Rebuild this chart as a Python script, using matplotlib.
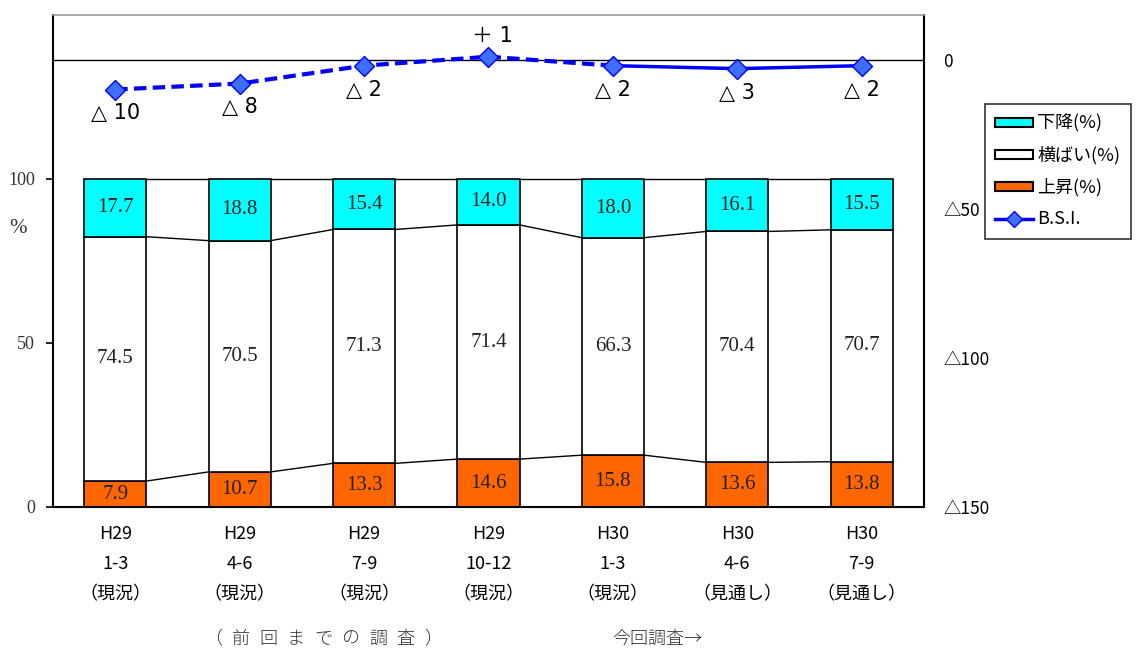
import matplotlib.pyplot as plt
from matplotlib.patches import Patch
from matplotlib.lines import Line2D

plt.rcParams['font.family'] = ['Noto Sans CJK JP', 'DejaVu Sans']

# Data
periods = ['H29\n1-3\n（現況）', 'H29\n4-6\n（現況）', 'H29\n7-9\n（現況）', 'H29\n10-12\n（現況）',
           'H30\n1-3\n（現況）', 'H30\n4-6\n（見通し）', 'H30\n7-9\n（見通し）']
rise = [7.9, 10.7, 13.3, 14.6, 15.8, 13.6, 13.8]      # 上昇(%)
flat = [74.5, 70.5, 71.3, 71.4, 66.3, 70.4, 70.7]     # 横ばい(%)
fall = [17.7, 18.8, 15.4, 14.0, 18.0, 16.1, 15.5]     # 下降(%)
bsi = [-10, -8, -2, 1, -2, -3, -2]
bsi_labels = ['△ 10', '△ 8', '△ 2', '＋ 1', '△ 2', '△ 3', '△ 2']

c_rise = '#FF6600'
c_fall = '#00FFFF'
c_line = '#0000FF'
c_mark = '#3F6FFF'
serif = ['Liberation Serif', 'DejaVu Serif']
label_font = ['DejaVu Sans', 'Noto Sans CJK JP']

fig = plt.figure(figsize=(11.37, 6.48), dpi=100)
ax = fig.add_axes([0.0466, 0.2176, 0.766, 0.7593])
x = list(range(len(periods)))
w = 0.5

mid_base = [r for r in rise]
top_base = [r + f for r, f in zip(rise, flat)]
ax.bar(x, rise, w, color=c_rise, edgecolor='black', linewidth=1.2, zorder=2)
ax.bar(x, flat, w, bottom=mid_base, color='white', edgecolor='black', linewidth=1.2, zorder=2)
ax.bar(x, fall, w, bottom=top_base, color=c_fall, edgecolor='black', linewidth=1.2, zorder=2)

# connector lines between neighbouring bars
for i in range(len(x) - 1):
    for lev in (mid_base, top_base):
        ax.plot([x[i] + w / 2, x[i + 1] - w / 2], [lev[i], lev[i + 1]],
                color='black', lw=1, zorder=1)
    ax.plot([x[i] + w / 2, x[i + 1] - w / 2], [100, 100], color='black', lw=1, zorder=1)

# values inside the bars
for i in x:
    ax.text(i, rise[i] / 2, f'{rise[i]:.1f}', ha='center', va='center',
            fontsize=15, family=serif, color='#222222', zorder=3)
    ax.text(i, mid_base[i] + flat[i] / 2, f'{flat[i]:.1f}', ha='center', va='center',
            fontsize=15, family=serif, color='#222222', zorder=3)
    ax.text(i, top_base[i] + fall[i] / 2, f'{fall[i]:.1f}', ha='center', va='center',
            fontsize=15, family=serif, color='#222222', zorder=3)

ax.set_xlim(-0.5, len(x) - 0.5)
ax.set_ylim(0, 150)
ax.set_yticks([0, 50, 100])
ax.set_yticklabels(['0', '50', '100'], family=serif, fontsize=13, color='#333333')
ax.text(-0.04, 85, '%', transform=ax.get_yaxis_transform(), ha='center', va='center',
        family=serif, fontsize=15, color='#333333')
ax.set_xticks(x)
ax.set_xticklabels(periods, fontsize=13, linespacing=1.85)
ax.tick_params(axis='x', length=0, pad=13)
ax.tick_params(axis='y', length=5, width=1.2, direction='out', pad=8)
for s in ('left', 'bottom', 'right'):
    ax.spines[s].set_linewidth(1.5)
ax.spines['top'].set_color('#999999')
ax.spines['top'].set_linewidth(1.2)

# B.S.I. on the right axis
ax2 = ax.twinx()
ax2.set_ylim(-150, 15)
ax2.axhline(0, color='black', lw=1, zorder=1)
ax2.plot(x[:5], bsi[:5], color=c_line, lw=3, ls=(0, (3, 1.5)), zorder=3)
ax2.plot(x[4:], bsi[4:], color=c_line, lw=2.5, zorder=3)
ax2.plot(x, bsi, ls='none', marker='D', markersize=10, markerfacecolor=c_mark,
         markeredgecolor=c_line, markeredgewidth=1, zorder=4)
for i in x:
    if bsi[i] > 0:
        ax2.annotate(bsi_labels[i], (i, bsi[i]), xytext=(3, 8), textcoords='offset points',
                     ha='center', va='bottom', fontsize=15, family=label_font)
    else:
        ax2.annotate(bsi_labels[i], (i, bsi[i]), xytext=(0, -10), textcoords='offset points',
                     ha='center', va='top', fontsize=15, family=label_font)
ax2.set_yticks([0, -50, -100, -150])
ax2.set_yticklabels(['0', '△50', '△100', '△150'], fontsize=12.5)
ax2.tick_params(axis='y', length=0, pad=14)
for s in ax2.spines.values():
    s.set_visible(False)

handles = [Patch(facecolor=c_fall, edgecolor='black', linewidth=1.5, label='下降(%)'),
           Patch(facecolor='white', edgecolor='black', linewidth=1.5, label='横ばい(%)'),
           Patch(facecolor=c_rise, edgecolor='black', linewidth=1.5, label='上昇(%)'),
           Line2D([], [], color=c_line, lw=2.5, marker='D', markersize=8,
                  markerfacecolor=c_mark, markeredgecolor=c_line, label='B.S.I.')]
leg = fig.legend(handles=handles, loc='upper left', bbox_to_anchor=(0.866, 0.84),
                 fontsize=13, frameon=True, fancybox=False, edgecolor='black',
                 handlelength=2.1, handleheight=0.45, handletextpad=0.2,
                 labelspacing=0.75, borderpad=0.6, borderaxespad=0)
leg.get_frame().set_linewidth(1.2)

# footnotes under the period labels
prev_chars = ['（', '前', '回', 'ま', 'で', 'の', '調', '査', '）']
for k, ch in enumerate(prev_chars):
    fig.text((213 + k * 27.5) / 1137, 0.0, ch, ha='center', va='bottom',
             fontsize=13, color='#333333', fontweight='light')
fig.text(0.578, 0.0, '今回調査→', ha='center', va='bottom',
         fontsize=13, color='#333333', fontweight='light')

fig.savefig('out.png', dpi=100)
